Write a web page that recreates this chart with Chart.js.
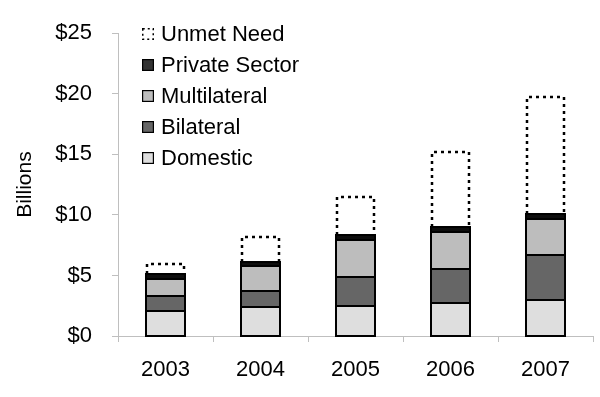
<!DOCTYPE html>
<html>
<head>
<meta charset="utf-8">
<script src="https://cdn.jsdelivr.net/npm/chart.js@4.4.1/dist/chart.umd.min.js"></script>
<style>
  html, body { margin: 0; padding: 0; background: #fff; }
  #wrap { width: 600px; height: 397px; position: relative; }
</style>
</head>
<body>
<div id="wrap"><canvas id="c"></canvas></div>
<script>
const years = ['2003', '2004', '2005', '2006', '2007'];
const domestic = [2.1, 2.4, 2.5, 2.75, 3.0];
const bilateral = [1.2, 1.35, 2.4, 2.8, 3.65];
const multilateral = [1.4, 2.0, 3.0, 3.05, 3.05];
const privateSector = [0.4, 0.4, 0.4, 0.4, 0.4];
const unmetNeed = [0.9, 2.1, 3.3, 6.3, 9.75];
const yTicks = [0, 5, 10, 15, 20, 25];

const FONT = '"Liberation Sans", Arial, sans-serif';

const outlines = {
  id: 'outlines',
  afterDatasetsDraw(chart) {
    const ctx = chart.ctx;
    chart.data.datasets.forEach((ds, i) => {
      const meta = chart.getDatasetMeta(i);
      ctx.save();
      ctx.strokeStyle = '#000';
      if (ds.dashed) {
        ctx.lineWidth = 2.5;
        ctx.setLineDash([3, 4]);
      } else {
        ctx.lineWidth = 2;
      }
      meta.data.forEach(el => {
        const p = el.getProps(['x', 'y', 'base', 'width'], true);
        const l = Math.round(p.x - p.width / 2), r = Math.round(p.x + p.width / 2);
        const t = Math.round(p.y), b = Math.round(p.base);
        ctx.beginPath();
        if (ds.dashed) {
          ctx.moveTo(l + 1, b);
          ctx.lineTo(l + 1, t + 1);
          ctx.lineTo(r - 1, t + 1);
          ctx.lineTo(r - 1, b);
        } else {
          ctx.rect(l, t, r - l, b - t);
        }
        ctx.stroke();
      });
      ctx.restore();
    });
  }
};

const customLegend = {
  id: 'customLegend',
  afterDraw(chart) {
    const ctx = chart.ctx;
    const x0 = 142, y0 = 34, step = 31, box = 12;
    const items = chart.data.datasets.slice().reverse();
    ctx.save();
    ctx.font = '22px ' + FONT;
    ctx.textBaseline = 'middle';
    items.forEach((ds, k) => {
      const cy = y0 + k * step;
      if (ds.dashed) {
        ctx.save();
        ctx.strokeStyle = '#000';
        ctx.lineWidth = 1.5;
        ctx.setLineDash([2, 3]);
        ctx.strokeRect(x0 + 0.75, cy - box / 2 + 0.75, box - 1.5, box - 1.5);
        ctx.restore();
      } else {
        ctx.fillStyle = ds.legendColor || ds.backgroundColor;
        ctx.fillRect(x0, cy - box / 2, box, box);
        ctx.strokeStyle = '#000';
        ctx.lineWidth = 1.2;
        ctx.strokeRect(x0 + 0.6, cy - box / 2 + 0.6, box - 1.2, box - 1.2);
      }
      ctx.fillStyle = '#000';
      ctx.fillText(ds.label, x0 + box + 7, cy + 1);
    });
    ctx.restore();
  }
};

new Chart(document.getElementById('c'), {
  type: 'bar',
  data: {
    labels: years,
    datasets: [
      { label: 'Domestic', data: domestic, backgroundColor: '#dedede' },
      { label: 'Bilateral', data: bilateral, backgroundColor: '#666666' },
      { label: 'Multilateral', data: multilateral, backgroundColor: '#bdbdbd' },
      { label: 'Private Sector', data: privateSector, backgroundColor: '#0d0d0d', legendColor: '#333333' },
      { label: 'Unmet Need', data: unmetNeed, backgroundColor: 'rgba(255,255,255,0)', dashed: true }
    ]
  },
  options: {
    responsive: true,
    maintainAspectRatio: false,
    animation: false,
    layout: { padding: { top: 24, right: 7, bottom: 0, left: 0 } },
    datasets: { bar: { categoryPercentage: 1.0, barPercentage: 0.41, borderWidth: 0 } },
    plugins: { legend: { display: false }, tooltip: { enabled: false } },
    scales: {
      x: {
        stacked: true,
        afterFit: s => { s.height = 61; },
        border: { color: '#bfbfbf', width: 1 },
        grid: { offset: true, drawOnChartArea: false, drawTicks: true, tickLength: 6, color: '#bfbfbf' },
        ticks: { color: '#000', padding: 15, font: { family: FONT, size: 22 } }
      },
      y: {
        stacked: true,
        min: 0, max: 25,
        afterFit: s => { s.width = 118; },
        afterBuildTicks: s => { s.ticks = yTicks.map(v => ({ value: v })); },
        border: { color: '#bfbfbf', width: 1 },
        grid: { drawOnChartArea: false, drawTicks: true, tickLength: 6, color: '#bfbfbf' },
        ticks: { color: '#000', padding: 20, font: { family: FONT, size: 22 }, callback: v => '$' + v },
        title: { display: true, text: 'Billions', color: '#000', font: { family: FONT, size: 21 }, padding: { top: 13, bottom: 0 } }
      }
    }
  },
  plugins: [outlines, customLegend]
});
</script>
</body>
</html>
